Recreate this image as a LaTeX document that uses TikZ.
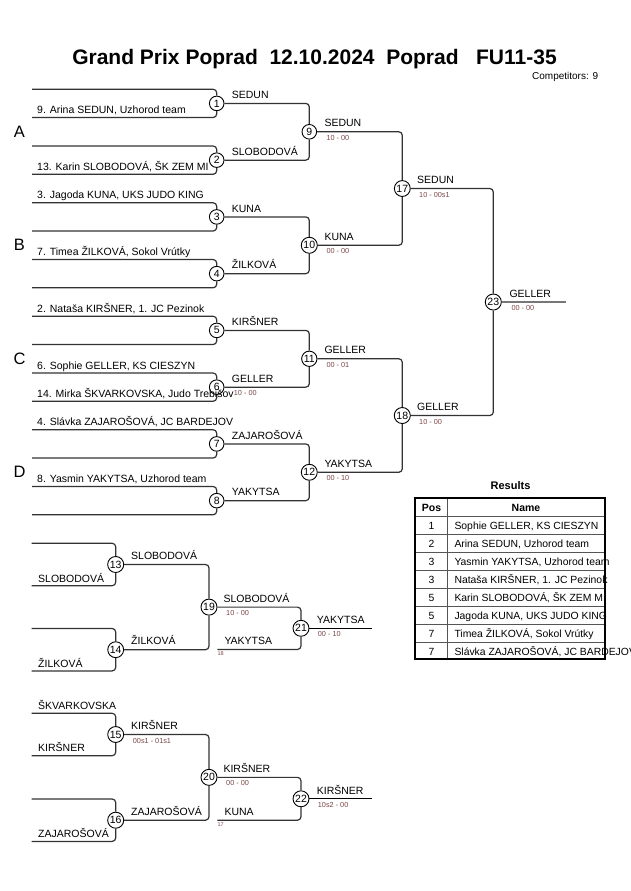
\documentclass[tikz,border=0pt]{standalone}
\usepackage{fontspec}
\setmainfont{Liberation Sans}
\definecolor{linec}{HTML}{333333}
\definecolor{scorec}{HTML}{7A4545}
\definecolor{finalc}{HTML}{777777}
\definecolor{gridc}{HTML}{555555}
\tikzset{
  conn/.style={draw=linec, line width=1.2pt, rounded corners=3.5pt},
  mc/.style={circle, draw=black, fill=white, line width=0.9pt, minimum size=14.6pt, inner sep=0.8pt, font=\fontsize{10.5}{12}\selectfont},
  pname/.style={anchor=base west, inner sep=0pt, font=\fontsize{10.5}{12}\selectfont},
  wname/.style={anchor=base west, inner sep=0pt, font=\fontsize{10.5}{12}\selectfont},
  score/.style={anchor=west, inner sep=0pt, text=scorec, font=\fontsize{7.3}{8}\selectfont},
  tiny/.style={anchor=west, inner sep=0pt, text=scorec, font=\fontsize{5.5}{6}\selectfont},
  pool/.style={anchor=center, inner sep=0pt, font=\fontsize{16.5}{18}\selectfont},
  tcell/.style={anchor=base west, inner sep=0pt, font=\fontsize{10.4}{12}\selectfont},
  tpos/.style={anchor=base, inner sep=0pt, font=\fontsize{10.4}{12}\selectfont},
  thead/.style={anchor=base, inner sep=0pt, font=\bfseries\fontsize{10.5}{12}\selectfont},
}
\begin{document}
\begin{tikzpicture}[x=1pt, y=-1pt]
\useasboundingbox (0,0) rectangle (630,891);
\begin{scope}
\clip (0,0) rectangle (630,891);
% title
\node[anchor=base, inner sep=0pt, font=\bfseries\fontsize{21}{24}\selectfont] (title) at (314.5,65) {Grand Prix Poprad\ \ 12.10.2024\ \ Poprad\ \ \ FU11-35};
\node[anchor=base east, inner sep=0pt, font=\fontsize{10}{11}\selectfont] (comp) at (598.3,79) {Competitors: 9};

% pool letters
\node[pool] (pA) at (19.5,131.78) {A};
\node[pool] (pB) at (19.5,245.28) {B};
\node[pool] (pC) at (19.5,358.78) {C};
\node[pool] (pD) at (19.5,472.28) {D};

% round 1 circles
\node[mc] (m1) at (216.7,103.4) {1};
\node[mc] (m2) at (216.7,160.15) {2};
\node[mc] (m3) at (216.7,216.9) {3};
\node[mc] (m4) at (216.7,273.65) {4};
\node[mc] (m5) at (216.7,330.4) {5};
\node[mc] (m6) at (216.7,387.15) {6};
\node[mc] (m7) at (216.7,443.9) {7};
\node[mc] (m8) at (216.7,500.65) {8};
% round 2
\node[mc] (m9) at (309.3,131.78) {9};
\node[mc] (m10) at (309.3,245.28) {10};
\node[mc] (m11) at (309.3,358.78) {11};
\node[mc] (m12) at (309.3,472.28) {12};
% round 3
\node[mc] (m17) at (402.3,188.53) {17};
\node[mc] (m18) at (402.3,415.53) {18};
% final
\node[mc] (m23) at (493.3,302.03) {23};

% round 1 input lines
\coordinate (u1) at (32,89.3);    \coordinate (l1) at (32,117.5);
\coordinate (u2) at (32,146.05);  \coordinate (l2) at (32,174.25);
\coordinate (u3) at (32,202.8);   \coordinate (l3) at (32,231);
\coordinate (u4) at (32,259.55);  \coordinate (l4) at (32,287.75);
\coordinate (u5) at (32,316.3);   \coordinate (l5) at (32,344.5);
\coordinate (u6) at (32,373.05);  \coordinate (l6) at (32,401.25);
\coordinate (u7) at (32,429.8);   \coordinate (l7) at (32,458);
\coordinate (u8) at (32,486.55);  \coordinate (l8) at (32,514.75);
\foreach \k in {1,...,8}{
  \draw[conn] (u\k) -| (m\k);
  \draw[conn] (l\k) -| (m\k);
}
% later rounds
\draw[conn] (m1) -| (m9);  \draw[conn] (m2) -| (m9);
\draw[conn] (m3) -| (m10); \draw[conn] (m4) -| (m10);
\draw[conn] (m5) -| (m11); \draw[conn] (m6) -| (m11);
\draw[conn] (m7) -| (m12); \draw[conn] (m8) -| (m12);
\draw[conn] (m9) -| (m17); \draw[conn] (m10) -| (m17);
\draw[conn] (m11) -| (m18); \draw[conn] (m12) -| (m18);
\draw[conn] (m17) -| (m23); \draw[conn] (m18) -| (m23);
\coordinate (out23) at (565.7,302.03);
\draw[draw=finalc, line width=1.8pt] (m23) -- (out23);

% competitor names
\node[pname] (n1) at (37,113.5) {9. Arina SEDUN, Uzhorod team};
\node[pname] (n2) at (37,170.25) {13. Karin SLOBODOVÁ, ŠK ZEM MI};
\node[pname] (n3) at (37,198.8) {3. Jagoda KUNA, UKS JUDO KING};
\node[pname] (n4) at (37,255.55) {7. Timea ŽILKOVÁ, Sokol Vrútky};
\node[pname] (n5) at (37,312.3) {2. Nataša KIRŠNER, 1. JC Pezinok};
\node[pname] (n6) at (37,369.05) {6. Sophie GELLER, KS CIESZYN};
\node[pname] (n14) at (37,397.25) {14. Mirka ŠKVARKOVSKA, Judo Trebišov};
\node[pname] (n7) at (37,425.8) {4. Slávka ZAJAROŠOVÁ, JC BARDEJOV};
\node[pname] (n8) at (37,482.55) {8. Yasmin YAKYTSA, Uzhorod team};

% round 1 winners
\node[wname] (w1) at (231.7,98.6) {SEDUN};
\node[wname] (w2) at (231.7,155.35) {SLOBODOVÁ};
\node[wname] (w3) at (231.7,212.1) {KUNA};
\node[wname] (w4) at (231.7,268.85) {ŽILKOVÁ};
\node[wname] (w5) at (231.7,325.6) {KIRŠNER};
\node[wname] (w6) at (231.7,382.35) {GELLER};
\node[score] (s6) at (233.7,393.15) {10 - 00};
\node[wname] (w7) at (231.7,439.1) {ZAJAROŠOVÁ};
\node[wname] (w8) at (231.7,495.85) {YAKYTSA};
% round 2 winners
\node[wname] (w9) at (324.3,126.98) {SEDUN};
\node[score] (s9) at (326.3,137.78) {10 - 00};
\node[wname] (w10) at (324.3,240.48) {KUNA};
\node[score] (s10) at (326.3,251.28) {00 - 00};
\node[wname] (w11) at (324.3,353.98) {GELLER};
\node[score] (s11) at (326.3,364.78) {00 - 01};
\node[wname] (w12) at (324.3,467.48) {YAKYTSA};
\node[score] (s12) at (326.3,478.28) {00 - 10};
% round 3
\node[wname] (w17) at (417,183.73) {SEDUN};
\node[score] (s17) at (419,194.53) {10 - 00s1};
\node[wname] (w18) at (417,410.73) {GELLER};
\node[score] (s18) at (419,421.53) {10 - 00};
% final
\node[wname] (w23) at (509.3,297.23) {GELLER};
\node[score] (s23) at (511.3,308.03) {00 - 00};

% ===== repechage 1 =====
\node[mc] (m13) at (115.7,564.5) {13};
\node[mc] (m14) at (115.7,649.7) {14};
\node[mc] (m19) at (209,607.1) {19};
\node[mc] (m21) at (301,628.3) {21};
\coordinate (u13) at (31.7,543.3); \coordinate (l13) at (31.7,585.7);
\coordinate (u14) at (31.7,628.5); \coordinate (l14) at (31.7,670.9);
\draw[conn] (u13) -| (m13); \draw[conn] (l13) -| (m13);
\draw[conn] (u14) -| (m14); \draw[conn] (l14) -| (m14);
\draw[conn] (m13) -| (m19); \draw[conn] (m14) -| (m19);
\coordinate (in21) at (217.3,649.5);
\draw[conn] (m19) -| (m21); \draw[conn] (in21) -| (m21);
\coordinate (out21) at (372.3,628.3);
\draw[draw=black, line width=1.3pt] (m21) -- (out21);
\node[pname] (r13) at (38,582) {SLOBODOVÁ};
\node[pname] (r14) at (38,667.4) {ŽILKOVÁ};
\node[wname] (w13) at (131,559.7) {SLOBODOVÁ};
\node[wname] (w14) at (131,644.9) {ŽILKOVÁ};
\node[wname] (w19) at (223.3,602.3) {SLOBODOVÁ};
\node[score] (s19) at (226,613.1) {10 - 00};
\node[wname] (y21) at (224.3,644.7) {YAKYTSA};
\node[tiny] (t18) at (217.3,653.7) {18};
\node[wname] (w21) at (316.7,623.5) {YAKYTSA};
\node[score] (s21) at (317.7,634.3) {00 - 10};

% ===== repechage 2 =====
\node[mc] (m15) at (115.7,734.5) {15};
\node[mc] (m16) at (115.7,820.2) {16};
\node[mc] (m20) at (209,777.35) {20};
\node[mc] (m22) at (301,798.8) {22};
\coordinate (u15) at (31.7,713.3); \coordinate (l15) at (31.7,755.7);
\coordinate (u16) at (31.7,799);   \coordinate (l16) at (31.7,841.4);
\draw[conn] (u15) -| (m15); \draw[conn] (l15) -| (m15);
\draw[conn] (u16) -| (m16); \draw[conn] (l16) -| (m16);
\draw[conn] (m15) -| (m20); \draw[conn] (m16) -| (m20);
\coordinate (in22) at (217.3,820.2);
\draw[conn] (m20) -| (m22); \draw[conn] (in22) -| (m22);
\coordinate (out22) at (372.3,798.8);
\draw[draw=black, line width=1.3pt] (m22) -- (out22);
\node[pname] (r15a) at (38,709.3) {ŠKVARKOVSKA};
\node[pname] (r15b) at (38,751.7) {KIRŠNER};
\node[pname] (r16) at (38,837.4) {ZAJAROŠOVÁ};
\node[wname] (w15) at (131,729.7) {KIRŠNER};
\node[score] (s15) at (132.7,740.5) {00s1 - 01s1};
\node[wname] (w16) at (131,815.4) {ZAJAROŠOVÁ};
\node[wname] (w20) at (223.3,772.5) {KIRŠNER};
\node[score] (s20) at (226,783.3) {00 - 00};
\node[wname] (k22) at (224.3,815.4) {KUNA};
\node[tiny] (t17) at (217.3,824.4) {17};
\node[wname] (w22) at (316.7,794) {KIRŠNER};
\node[score] (s22) at (317.7,804.8) {10s2 - 00};

% ===== results table =====
\node[anchor=base, inner sep=0pt, font=\bfseries\fontsize{11}{13}\selectfont] (restitle) at (510.5,489.3) {Results};
\foreach \i in {1,...,8}{
  \draw[draw=gridc, line width=1pt] (415,{498.3+18*\i}) -- (605,{498.3+18*\i});
}
\draw[draw=gridc, line width=1pt] (447.3,498.3) -- (447.3,659.3);
\node[thead] (hpos) at (431.5,511.1) {Pos};
\node[thead] (hname) at (526,511.1) {Name};
\node[tpos] (p1) at (431.5,529.1) {1};
\node[tpos] (p2) at (431.5,547.1) {2};
\node[tpos] (p3) at (431.5,565.1) {3};
\node[tpos] (p4) at (431.5,583.1) {3};
\node[tpos] (p5) at (431.5,601.1) {5};
\node[tpos] (p6) at (431.5,619.1) {5};
\node[tpos] (p7) at (431.5,637.1) {7};
\node[tpos] (p8) at (431.5,655.1) {7};
\node[tcell] (q1) at (454.3,529.1) {Sophie GELLER, KS CIESZYN};
\node[tcell] (q2) at (454.3,547.1) {Arina SEDUN, Uzhorod team};
\node[tcell] (q3) at (454.3,565.1) {Yasmin YAKYTSA, Uzhorod team};
\node[tcell] (q4) at (454.3,583.1) {Nataša KIRŠNER, 1. JC Pezinok};
\node[tcell] (q5) at (454.3,601.1) {Karin SLOBODOVÁ, ŠK ZEM MI};
\node[tcell] (q6) at (454.3,619.1) {Jagoda KUNA, UKS JUDO KING};
\node[tcell] (q7) at (454.3,637.1) {Timea ŽILKOVÁ, Sokol Vrútky};
\node[tcell] (q8) at (454.3,655.1) {Slávka ZAJAROŠOVÁ, JC BARDEJOV};
\draw[draw=black, line width=1.8pt] (415,498.3) rectangle (605,659.3);
\end{scope}
\end{tikzpicture}
\end{document}
